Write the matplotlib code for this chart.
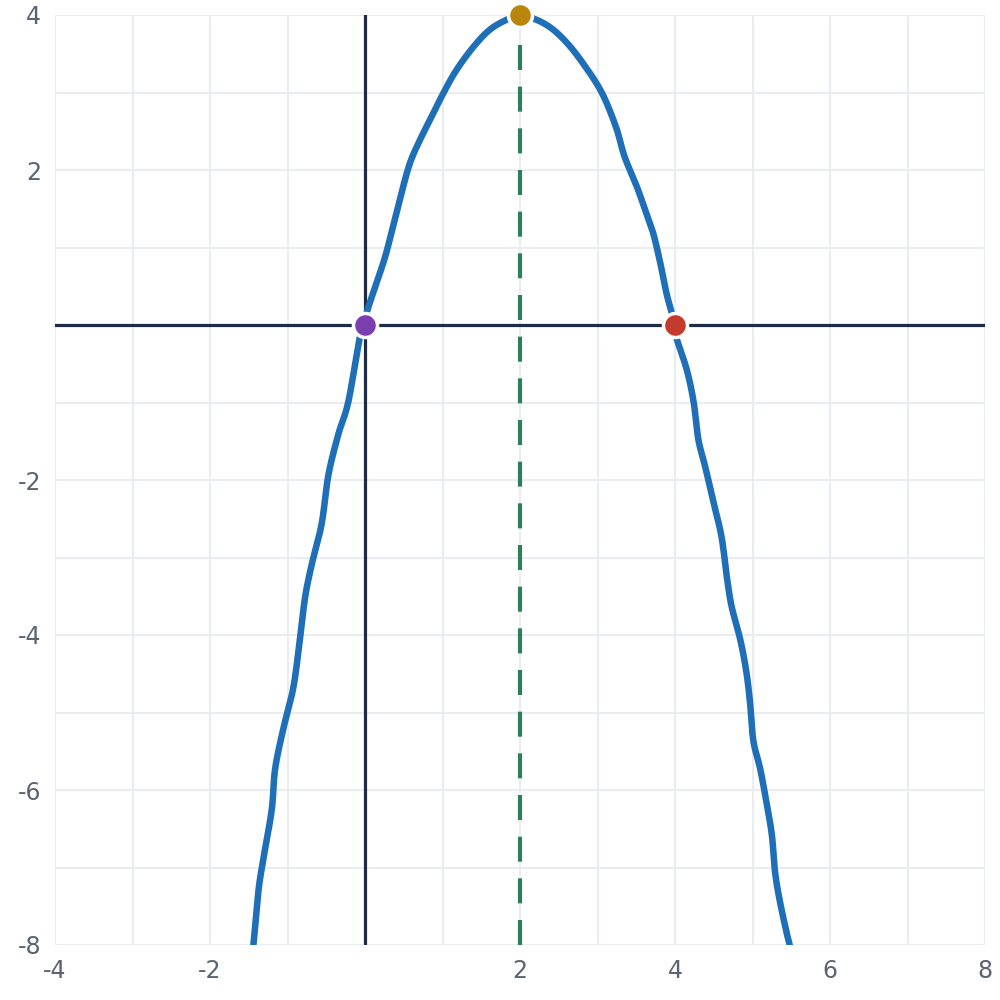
import numpy as np
import matplotlib
matplotlib.use("Agg")
from matplotlib import pyplot as plt

# curve points (x, y)
curve_x = [-1.47, -1.44, -1.376, -1.312, -1.204, -1.16, -1.054, -0.925, -0.839, -0.774,
           -0.69, -0.56, -0.473, -0.344, -0.215, -0.065, 0.0,
           0.02, 0.13, 0.26, 0.37, 0.47, 0.58, 0.71, 0.86, 1.01, 1.18, 1.40, 1.61, 1.83,
           2.0, 2.21, 2.43, 2.65, 2.86, 3.01, 3.12, 3.25, 3.35, 3.51, 3.63, 3.72, 3.81,
           3.89, 3.96, 4.0,
           4.02, 4.15, 4.24, 4.30, 4.39, 4.49, 4.60, 4.67, 4.73, 4.84, 4.92, 4.97, 5.01,
           5.10, 5.18, 5.25, 5.29, 5.35, 5.44, 5.48, 5.50]
curve_y = [-8.2, -8.0, -7.31, -6.89, -6.26, -5.73, -5.21, -4.68, -4.05, -3.52,
           -3.10, -2.57, -1.94, -1.41, -0.99, -0.15, 0.0,
           0.15, 0.49, 0.88, 1.31, 1.70, 2.09, 2.39, 2.69, 2.99, 3.29, 3.59, 3.81, 3.94,
           3.99, 3.94, 3.81, 3.59, 3.31, 3.08, 2.86, 2.52, 2.17, 1.78, 1.44, 1.18, 0.80,
           0.41, 0.15, 0.0,
           -0.17, -0.57, -0.99, -1.47, -1.83, -2.26, -2.73, -3.26, -3.63, -4.05, -4.47,
           -4.89, -5.36, -5.73, -6.16, -6.58, -7.05, -7.42, -7.84, -8.0, -8.2]

roots_x = [0, 4]
roots_y = [0, 0]
vertex_x = 2
vertex_y = 4

x_ticks = [-4, -2, 2, 4, 6, 8]
y_ticks = [-8, -6, -4, -2, 2, 4]


def catmull(xs, ys, n=12):
    # smooth the traced polyline for drawing
    P = np.column_stack([xs, ys])
    P = np.vstack([P[0], P, P[-1]])
    out = []
    for i in range(1, len(P) - 2):
        p0, p1, p2, p3 = P[i - 1], P[i], P[i + 1], P[i + 2]
        for t in np.linspace(0, 1, n, endpoint=False):
            t2, t3 = t * t, t * t * t
            out.append(0.5 * ((2 * p1) + (-p0 + p2) * t + (2 * p0 - 5 * p1 + 4 * p2 - p3) * t2
                              + (-p0 + 3 * p1 - 3 * p2 + p3) * t3))
    out.append(P[-2])
    out = np.array(out)
    return out[:, 0], out[:, 1]


fig = plt.figure(figsize=(10, 10), dpi=100)
ax = fig.add_axes([0.055, 0.055, 0.93, 0.93])

ax.set_xlim(-4, 8)
ax.set_ylim(-8, 4)
ax.set_xticks(range(-4, 9), minor=False)
ax.set_yticks(range(-8, 5), minor=False)
ax.grid(True, color="#e9ecf1", linewidth=1.5, zorder=0)
ax.set_xticklabels([str(t) if t in x_ticks else "" for t in range(-4, 9)])
ax.set_yticklabels([str(t) if t in y_ticks else "" for t in range(-8, 5)])
ax.tick_params(length=0, labelsize=17, labelcolor="#5b6473", pad=10)
for s in ax.spines.values():
    s.set_visible(False)

ax.axhline(0, color="#1f2a44", linewidth=2.3, zorder=2)
ax.axvline(0, color="#1f2a44", linewidth=2.3, zorder=2)
ax.axvline(vertex_x, color="#2e7d5b", linewidth=3, dashes=(6, 4), zorder=3)

sx, sy = catmull(curve_x, curve_y)
ax.plot(sx, sy, color="#1f6fb8", linewidth=4.7, solid_capstyle="butt", zorder=4)

ax.scatter([roots_x[0]], [roots_y[0]], s=300, color="#7b3fb0", edgecolor="white",
           linewidth=2.5, zorder=5, clip_on=False)
ax.scatter([roots_x[1]], [roots_y[1]], s=300, color="#c23b2c", edgecolor="white",
           linewidth=2.5, zorder=5, clip_on=False)
ax.scatter([vertex_x], [vertex_y], s=300, color="#b8860b", edgecolor="white",
           linewidth=2.5, zorder=5, clip_on=False)

fig.savefig("out.png", dpi=100)
